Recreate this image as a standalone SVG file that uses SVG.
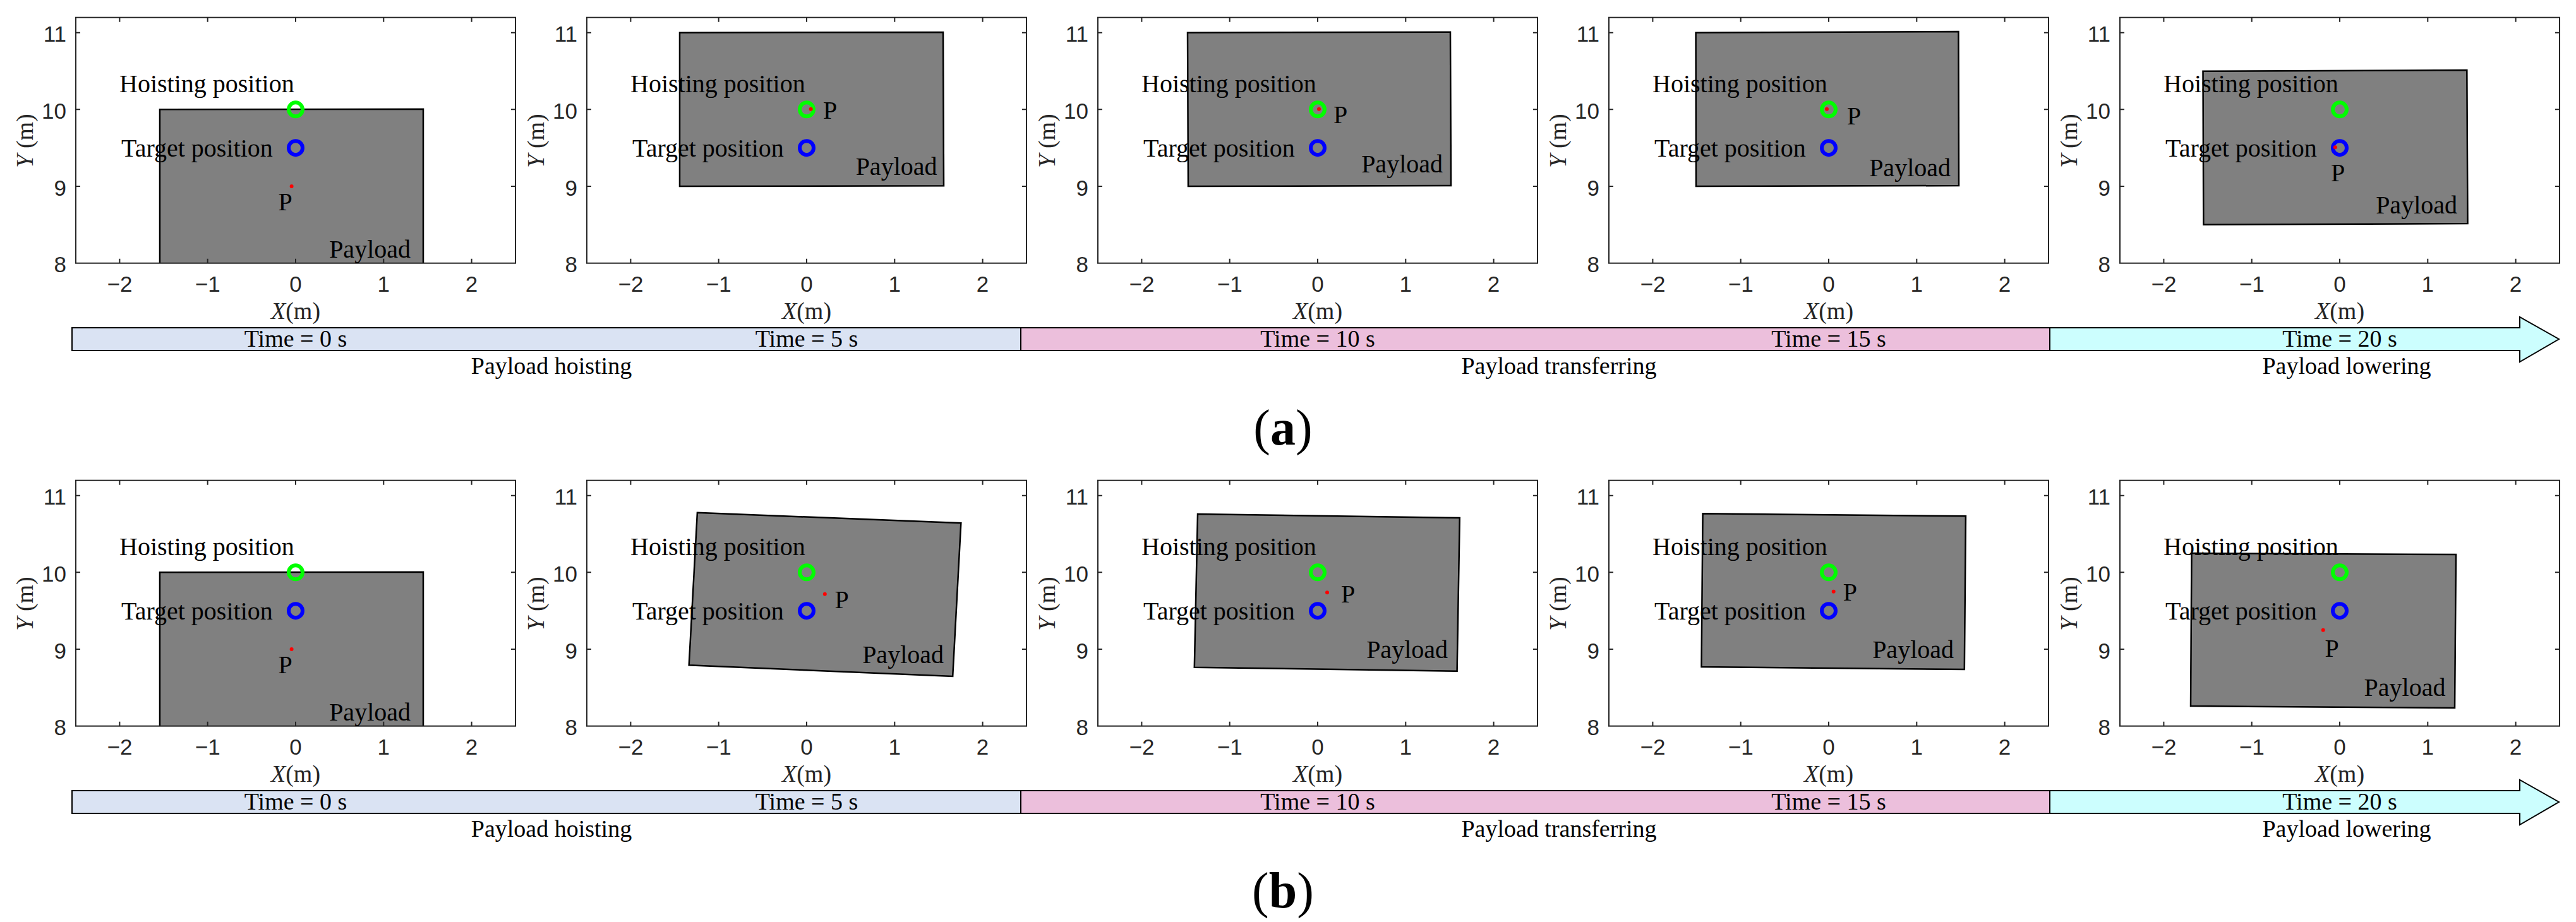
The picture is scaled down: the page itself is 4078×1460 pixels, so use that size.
<svg xmlns="http://www.w3.org/2000/svg" width="4078" height="1460" viewBox="0 0 4078 1460">
<style>
.frame{fill:none;stroke:#262626;stroke-width:2}
.tick{fill:none;stroke:#262626;stroke-width:2}
.tl{font-family:"Liberation Sans",Arial,sans-serif;font-size:35px;fill:#262626}
.tx{text-anchor:middle}
.ty{text-anchor:end}
.ax{font-family:"Liberation Serif","Times New Roman",serif;font-size:38px;fill:#262626;text-anchor:middle}
.lab{font-family:"Liberation Serif","Times New Roman",serif;font-size:40px;fill:#000}
.end{text-anchor:end}
.pay{fill:#808080;stroke:#000;stroke-width:2.5;stroke-linejoin:miter}
.hc{fill:none;stroke:#00ff00;stroke-width:6}
.tc{fill:none;stroke:#0000ff;stroke-width:6}
.pd{fill:#ff0000}
.bt{font-family:"Liberation Serif","Times New Roman",serif;font-size:38px;fill:#000;text-anchor:middle}
.cap{font-family:"Liberation Serif","Times New Roman",serif;font-size:80px;fill:#000;text-anchor:middle}
.b1{fill:#dae3f3;stroke:#000;stroke-width:2}
.b2{fill:#ecbfdc;stroke:#000;stroke-width:2}
.b3{fill:#ccfefe;stroke:#000;stroke-width:2}
</style>
<defs>
<clipPath id="clip" clipPathUnits="userSpaceOnUse"><rect x="120" y="27.7" width="696" height="389"/></clipPath>
</defs>

<!-- ===== Row (a) ===== -->
<g id="a1" transform="translate(0,0)">
<g clip-path="url(#clip)"><polygon class="pay" points="253,173.3 670,172.7 670,430 253,430"/></g>
<rect class="frame" x="120" y="27.7" width="696" height="389"/>
<path class="tick" d="M189.4,416.7v-7M328.7,416.7v-7M468,416.7v-7M607.3,416.7v-7M746.6,416.7v-7M189.4,27.7v7M328.7,27.7v7M468,27.7v7M607.3,27.7v7M746.6,27.7v7M120,51.7h7M120,173.3h7M120,295h7M816,51.7h-7M816,173.3h-7M816,295h-7"/>
<text class="tl ty" x="105" y="66.2">11</text><text class="tl ty" x="105" y="187.8">10</text><text class="tl ty" x="105" y="309.5">9</text><text class="tl ty" x="105" y="431.2">8</text>
<text class="tl tx" x="189.4" y="462">−2</text><text class="tl tx" x="328.7" y="462">−1</text><text class="tl tx" x="468" y="462">0</text><text class="tl tx" x="607.3" y="462">1</text><text class="tl tx" x="746.6" y="462">2</text>
<text class="ax" x="468" y="505"><tspan font-style="italic">X</tspan>(m)</text>
<text class="ax" transform="translate(52,223) rotate(-90)"><tspan font-style="italic">Y</tspan> (m)</text>
<text class="lab" x="189" y="146">Hoisting position</text>
<text class="lab" x="192" y="248">Target position</text>
<circle class="hc" cx="468" cy="173.3" r="11"/><circle class="tc" cx="468" cy="234.2" r="11"/>
<circle class="pd" cx="461.6" cy="295" r="3"/>
<text class="lab" x="440.6" y="333">P</text>
<text class="lab end" x="650" y="408">Payload</text>
</g>

<g id="a2" transform="translate(809,0)">
<g clip-path="url(#clip)"><polygon class="pay" points="267,51.7 684,51 685,294.3 267,295"/></g>
<rect class="frame" x="120" y="27.7" width="696" height="389"/>
<path class="tick" d="M189.4,416.7v-7M328.7,416.7v-7M468,416.7v-7M607.3,416.7v-7M746.6,416.7v-7M189.4,27.7v7M328.7,27.7v7M468,27.7v7M607.3,27.7v7M746.6,27.7v7M120,51.7h7M120,173.3h7M120,295h7M816,51.7h-7M816,173.3h-7M816,295h-7"/>
<text class="tl ty" x="105" y="66.2">11</text><text class="tl ty" x="105" y="187.8">10</text><text class="tl ty" x="105" y="309.5">9</text><text class="tl ty" x="105" y="431.2">8</text>
<text class="tl tx" x="189.4" y="462">−2</text><text class="tl tx" x="328.7" y="462">−1</text><text class="tl tx" x="468" y="462">0</text><text class="tl tx" x="607.3" y="462">1</text><text class="tl tx" x="746.6" y="462">2</text>
<text class="ax" x="468" y="505"><tspan font-style="italic">X</tspan>(m)</text>
<text class="ax" transform="translate(52,223) rotate(-90)"><tspan font-style="italic">Y</tspan> (m)</text>
<text class="lab" x="189" y="146">Hoisting position</text>
<text class="lab" x="192" y="248">Target position</text>
<circle class="hc" cx="468" cy="173.3" r="11"/><circle class="tc" cx="468" cy="234.2" r="11"/>
<circle class="pd" cx="474.7" cy="172.7" r="3"/>
<text class="lab" x="494" y="188">P</text>
<text class="lab end" x="674.5" y="276.7">Payload</text>
</g>

<g id="a3" transform="translate(1618,0)">
<g clip-path="url(#clip)"><polygon class="pay" points="262,51.7 678,50.7 679,294 263,295"/></g>
<rect class="frame" x="120" y="27.7" width="696" height="389"/>
<path class="tick" d="M189.4,416.7v-7M328.7,416.7v-7M468,416.7v-7M607.3,416.7v-7M746.6,416.7v-7M189.4,27.7v7M328.7,27.7v7M468,27.7v7M607.3,27.7v7M746.6,27.7v7M120,51.7h7M120,173.3h7M120,295h7M816,51.7h-7M816,173.3h-7M816,295h-7"/>
<text class="tl ty" x="105" y="66.2">11</text><text class="tl ty" x="105" y="187.8">10</text><text class="tl ty" x="105" y="309.5">9</text><text class="tl ty" x="105" y="431.2">8</text>
<text class="tl tx" x="189.4" y="462">−2</text><text class="tl tx" x="328.7" y="462">−1</text><text class="tl tx" x="468" y="462">0</text><text class="tl tx" x="607.3" y="462">1</text><text class="tl tx" x="746.6" y="462">2</text>
<text class="ax" x="468" y="505"><tspan font-style="italic">X</tspan>(m)</text>
<text class="ax" transform="translate(52,223) rotate(-90)"><tspan font-style="italic">Y</tspan> (m)</text>
<text class="lab" x="189" y="146">Hoisting position</text>
<text class="lab" x="192" y="248">Target position</text>
<circle class="hc" cx="468" cy="173.3" r="11"/><circle class="tc" cx="468" cy="234.2" r="11"/>
<circle class="pd" cx="470" cy="172.7" r="3"/>
<text class="lab" x="493" y="195">P</text>
<text class="lab end" x="666" y="273">Payload</text>
</g>

<g id="a4" transform="translate(2427,0)">
<g clip-path="url(#clip)"><polygon class="pay" points="257.6,51.7 673.4,50 674,294 258,295"/></g>
<rect class="frame" x="120" y="27.7" width="696" height="389"/>
<path class="tick" d="M189.4,416.7v-7M328.7,416.7v-7M468,416.7v-7M607.3,416.7v-7M746.6,416.7v-7M189.4,27.7v7M328.7,27.7v7M468,27.7v7M607.3,27.7v7M746.6,27.7v7M120,51.7h7M120,173.3h7M120,295h7M816,51.7h-7M816,173.3h-7M816,295h-7"/>
<text class="tl ty" x="105" y="66.2">11</text><text class="tl ty" x="105" y="187.8">10</text><text class="tl ty" x="105" y="309.5">9</text><text class="tl ty" x="105" y="431.2">8</text>
<text class="tl tx" x="189.4" y="462">−2</text><text class="tl tx" x="328.7" y="462">−1</text><text class="tl tx" x="468" y="462">0</text><text class="tl tx" x="607.3" y="462">1</text><text class="tl tx" x="746.6" y="462">2</text>
<text class="ax" x="468" y="505"><tspan font-style="italic">X</tspan>(m)</text>
<text class="ax" transform="translate(52,223) rotate(-90)"><tspan font-style="italic">Y</tspan> (m)</text>
<text class="lab" x="189" y="146">Hoisting position</text>
<text class="lab" x="192" y="248">Target position</text>
<circle class="hc" cx="468" cy="173.3" r="11"/><circle class="tc" cx="468" cy="234.2" r="11"/>
<circle class="pd" cx="465" cy="172.7" r="3"/>
<text class="lab" x="497" y="197">P</text>
<text class="lab end" x="661" y="279">Payload</text>
</g>

<g id="a5" transform="translate(3236,0)">
<g clip-path="url(#clip)"><polygon class="pay" points="251.5,112.7 669.3,111 670.5,354 252.3,355.7"/></g>
<rect class="frame" x="120" y="27.7" width="696" height="389"/>
<path class="tick" d="M189.4,416.7v-7M328.7,416.7v-7M468,416.7v-7M607.3,416.7v-7M746.6,416.7v-7M189.4,27.7v7M328.7,27.7v7M468,27.7v7M607.3,27.7v7M746.6,27.7v7M120,51.7h7M120,173.3h7M120,295h7M816,51.7h-7M816,173.3h-7M816,295h-7"/>
<text class="tl ty" x="105" y="66.2">11</text><text class="tl ty" x="105" y="187.8">10</text><text class="tl ty" x="105" y="309.5">9</text><text class="tl ty" x="105" y="431.2">8</text>
<text class="tl tx" x="189.4" y="462">−2</text><text class="tl tx" x="328.7" y="462">−1</text><text class="tl tx" x="468" y="462">0</text><text class="tl tx" x="607.3" y="462">1</text><text class="tl tx" x="746.6" y="462">2</text>
<text class="ax" x="468" y="505"><tspan font-style="italic">X</tspan>(m)</text>
<text class="ax" transform="translate(52,223) rotate(-90)"><tspan font-style="italic">Y</tspan> (m)</text>
<text class="lab" x="189" y="146">Hoisting position</text>
<text class="lab" x="192" y="248">Target position</text>
<circle class="hc" cx="468" cy="173.3" r="11"/><circle class="tc" cx="468" cy="234.2" r="11"/>
<circle class="pd" cx="460.8" cy="233.3" r="3"/>
<text class="lab" x="454" y="286.7">P</text>
<text class="lab end" x="654" y="338">Payload</text>
</g>

<g id="timeline-a">
<rect class="b1" x="114" y="519" width="1502" height="36"/>
<rect class="b2" x="1616" y="519" width="1629" height="36"/>
<polygon class="b3" points="3245,519 3989,519 3989,502 4051,537 3989,573 3989,555 3245,555"/>
<text class="bt" x="468" y="549">Time = 0 s</text>
<text class="bt" x="1277" y="549">Time = 5 s</text>
<text class="bt" x="2086" y="549">Time = 10 s</text>
<text class="bt" x="2895" y="549">Time = 15 s</text>
<text class="bt" x="3704" y="549">Time = 20 s</text>
<text class="bt" x="873" y="592">Payload hoisting</text>
<text class="bt" x="2468" y="592">Payload transferring</text>
<text class="bt" x="3715" y="592">Payload lowering</text>
</g>
<text id="cap-a" class="cap" x="2031" y="704">(<tspan font-weight="bold">a</tspan>)</text>

<!-- ===== Row (b) ===== -->
<g id="b1" transform="translate(0,733)">
<g clip-path="url(#clip)"><polygon class="pay" points="253,173.3 670,172.7 670,430 253,430"/></g>
<rect class="frame" x="120" y="27.7" width="696" height="389"/>
<path class="tick" d="M189.4,416.7v-7M328.7,416.7v-7M468,416.7v-7M607.3,416.7v-7M746.6,416.7v-7M189.4,27.7v7M328.7,27.7v7M468,27.7v7M607.3,27.7v7M746.6,27.7v7M120,51.7h7M120,173.3h7M120,295h7M816,51.7h-7M816,173.3h-7M816,295h-7"/>
<text class="tl ty" x="105" y="66.2">11</text><text class="tl ty" x="105" y="187.8">10</text><text class="tl ty" x="105" y="309.5">9</text><text class="tl ty" x="105" y="431.2">8</text>
<text class="tl tx" x="189.4" y="462">−2</text><text class="tl tx" x="328.7" y="462">−1</text><text class="tl tx" x="468" y="462">0</text><text class="tl tx" x="607.3" y="462">1</text><text class="tl tx" x="746.6" y="462">2</text>
<text class="ax" x="468" y="505"><tspan font-style="italic">X</tspan>(m)</text>
<text class="ax" transform="translate(52,223) rotate(-90)"><tspan font-style="italic">Y</tspan> (m)</text>
<text class="lab" x="189" y="146">Hoisting position</text>
<text class="lab" x="192" y="248">Target position</text>
<circle class="hc" cx="468" cy="173.3" r="11"/><circle class="tc" cx="468" cy="234.2" r="11"/>
<circle class="pd" cx="461.6" cy="295" r="3"/>
<text class="lab" x="440.6" y="333">P</text>
<text class="lab end" x="650" y="408">Payload</text>
</g>

<g id="b2" transform="translate(809,733)">
<g clip-path="url(#clip)"><polygon class="pay" points="294.9,78.7 712.3,95.3 699.2,338 281.7,320.3"/></g>
<rect class="frame" x="120" y="27.7" width="696" height="389"/>
<path class="tick" d="M189.4,416.7v-7M328.7,416.7v-7M468,416.7v-7M607.3,416.7v-7M746.6,416.7v-7M189.4,27.7v7M328.7,27.7v7M468,27.7v7M607.3,27.7v7M746.6,27.7v7M120,51.7h7M120,173.3h7M120,295h7M816,51.7h-7M816,173.3h-7M816,295h-7"/>
<text class="tl ty" x="105" y="66.2">11</text><text class="tl ty" x="105" y="187.8">10</text><text class="tl ty" x="105" y="309.5">9</text><text class="tl ty" x="105" y="431.2">8</text>
<text class="tl tx" x="189.4" y="462">−2</text><text class="tl tx" x="328.7" y="462">−1</text><text class="tl tx" x="468" y="462">0</text><text class="tl tx" x="607.3" y="462">1</text><text class="tl tx" x="746.6" y="462">2</text>
<text class="ax" x="468" y="505"><tspan font-style="italic">X</tspan>(m)</text>
<text class="ax" transform="translate(52,223) rotate(-90)"><tspan font-style="italic">Y</tspan> (m)</text>
<text class="lab" x="189" y="146">Hoisting position</text>
<text class="lab" x="192" y="248">Target position</text>
<circle class="hc" cx="468" cy="173.3" r="11"/><circle class="tc" cx="468" cy="234.2" r="11"/>
<circle class="pd" cx="496.8" cy="207.7" r="3"/>
<text class="lab" x="512.6" y="230.3">P</text>
<text class="lab end" x="685" y="317">Payload</text>
</g>

<g id="b3" transform="translate(1618,733)">
<g clip-path="url(#clip)"><polygon class="pay" points="278,81 692.8,87 688.6,329.7 272.8,323.7"/></g>
<rect class="frame" x="120" y="27.7" width="696" height="389"/>
<path class="tick" d="M189.4,416.7v-7M328.7,416.7v-7M468,416.7v-7M607.3,416.7v-7M746.6,416.7v-7M189.4,27.7v7M328.7,27.7v7M468,27.7v7M607.3,27.7v7M746.6,27.7v7M120,51.7h7M120,173.3h7M120,295h7M816,51.7h-7M816,173.3h-7M816,295h-7"/>
<text class="tl ty" x="105" y="66.2">11</text><text class="tl ty" x="105" y="187.8">10</text><text class="tl ty" x="105" y="309.5">9</text><text class="tl ty" x="105" y="431.2">8</text>
<text class="tl tx" x="189.4" y="462">−2</text><text class="tl tx" x="328.7" y="462">−1</text><text class="tl tx" x="468" y="462">0</text><text class="tl tx" x="607.3" y="462">1</text><text class="tl tx" x="746.6" y="462">2</text>
<text class="ax" x="468" y="505"><tspan font-style="italic">X</tspan>(m)</text>
<text class="ax" transform="translate(52,223) rotate(-90)"><tspan font-style="italic">Y</tspan> (m)</text>
<text class="lab" x="189" y="146">Hoisting position</text>
<text class="lab" x="192" y="248">Target position</text>
<circle class="hc" cx="468" cy="173.3" r="11"/><circle class="tc" cx="468" cy="234.2" r="11"/>
<circle class="pd" cx="483" cy="205.3" r="3"/>
<text class="lab" x="505" y="221">P</text>
<text class="lab end" x="674" y="308.7">Payload</text>
</g>

<g id="b4" transform="translate(2427,733)">
<g clip-path="url(#clip)"><polygon class="pay" points="268.6,80.3 684.9,84.3 682.8,327 266.5,323"/></g>
<rect class="frame" x="120" y="27.7" width="696" height="389"/>
<path class="tick" d="M189.4,416.7v-7M328.7,416.7v-7M468,416.7v-7M607.3,416.7v-7M746.6,416.7v-7M189.4,27.7v7M328.7,27.7v7M468,27.7v7M607.3,27.7v7M746.6,27.7v7M120,51.7h7M120,173.3h7M120,295h7M816,51.7h-7M816,173.3h-7M816,295h-7"/>
<text class="tl ty" x="105" y="66.2">11</text><text class="tl ty" x="105" y="187.8">10</text><text class="tl ty" x="105" y="309.5">9</text><text class="tl ty" x="105" y="431.2">8</text>
<text class="tl tx" x="189.4" y="462">−2</text><text class="tl tx" x="328.7" y="462">−1</text><text class="tl tx" x="468" y="462">0</text><text class="tl tx" x="607.3" y="462">1</text><text class="tl tx" x="746.6" y="462">2</text>
<text class="ax" x="468" y="505"><tspan font-style="italic">X</tspan>(m)</text>
<text class="ax" transform="translate(52,223) rotate(-90)"><tspan font-style="italic">Y</tspan> (m)</text>
<text class="lab" x="189" y="146">Hoisting position</text>
<text class="lab" x="192" y="248">Target position</text>
<circle class="hc" cx="468" cy="173.3" r="11"/><circle class="tc" cx="468" cy="234.2" r="11"/>
<circle class="pd" cx="475.7" cy="203.7" r="3"/>
<text class="lab" x="490.8" y="217.7">P</text>
<text class="lab end" x="666" y="308.7">Payload</text>
</g>

<g id="b5" transform="translate(3236,733)">
<g clip-path="url(#clip)"><polygon class="pay" points="233.5,143 652,145 650,388 232,385"/></g>
<rect class="frame" x="120" y="27.7" width="696" height="389"/>
<path class="tick" d="M189.4,416.7v-7M328.7,416.7v-7M468,416.7v-7M607.3,416.7v-7M746.6,416.7v-7M189.4,27.7v7M328.7,27.7v7M468,27.7v7M607.3,27.7v7M746.6,27.7v7M120,51.7h7M120,173.3h7M120,295h7M816,51.7h-7M816,173.3h-7M816,295h-7"/>
<text class="tl ty" x="105" y="66.2">11</text><text class="tl ty" x="105" y="187.8">10</text><text class="tl ty" x="105" y="309.5">9</text><text class="tl ty" x="105" y="431.2">8</text>
<text class="tl tx" x="189.4" y="462">−2</text><text class="tl tx" x="328.7" y="462">−1</text><text class="tl tx" x="468" y="462">0</text><text class="tl tx" x="607.3" y="462">1</text><text class="tl tx" x="746.6" y="462">2</text>
<text class="ax" x="468" y="505"><tspan font-style="italic">X</tspan>(m)</text>
<text class="ax" transform="translate(52,223) rotate(-90)"><tspan font-style="italic">Y</tspan> (m)</text>
<text class="lab" x="189" y="146">Hoisting position</text>
<text class="lab" x="192" y="248">Target position</text>
<circle class="hc" cx="468" cy="173.3" r="11"/><circle class="tc" cx="468" cy="234.2" r="11"/>
<circle class="pd" cx="441.7" cy="264.7" r="3"/>
<text class="lab" x="444.4" y="307">P</text>
<text class="lab end" x="635.4" y="368.7">Payload</text>
</g>

<g id="timeline-b">
<rect class="b1" x="114" y="1252" width="1502" height="36"/>
<rect class="b2" x="1616" y="1252" width="1629" height="36"/>
<polygon class="b3" points="3245,1252 3989,1252 3989,1235 4051,1270 3989,1306 3989,1288 3245,1288"/>
<text class="bt" x="468" y="1282">Time = 0 s</text>
<text class="bt" x="1277" y="1282">Time = 5 s</text>
<text class="bt" x="2086" y="1282">Time = 10 s</text>
<text class="bt" x="2895" y="1282">Time = 15 s</text>
<text class="bt" x="3704" y="1282">Time = 20 s</text>
<text class="bt" x="873" y="1325">Payload hoisting</text>
<text class="bt" x="2468" y="1325">Payload transferring</text>
<text class="bt" x="3715" y="1325">Payload lowering</text>
</g>
<text id="cap-b" class="cap" x="2031" y="1437">(<tspan font-weight="bold">b</tspan>)</text>
</svg>
